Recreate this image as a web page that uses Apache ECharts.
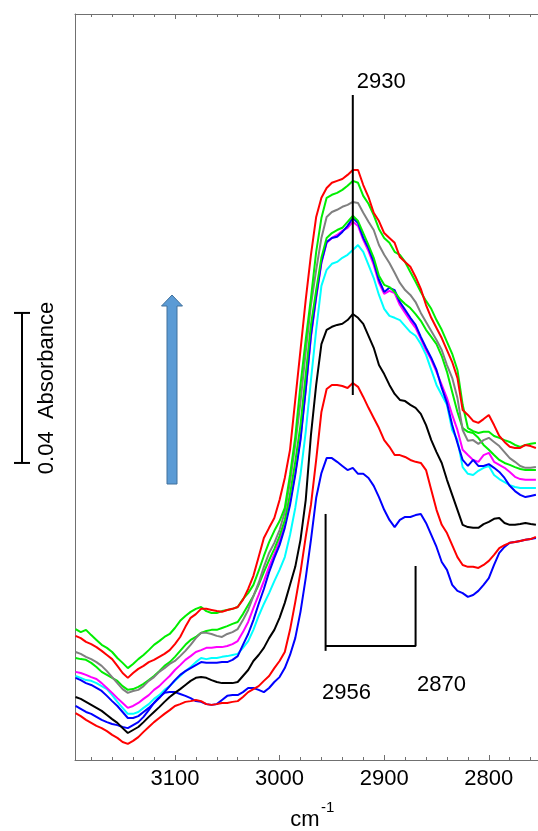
<!DOCTYPE html>
<html>
<head>
<meta charset="utf-8">
<script src="https://cdn.jsdelivr.net/npm/echarts@6/dist/echarts.min.js"></script>
<style>
html, body { margin: 0; padding: 0; background: #ffffff; }
#chart { width: 538px; height: 831px; }
</style>
</head>
<body>
<div id="chart"></div>
<script>
// Wavenumber grid (cm-1), shared by every spectrum
const wavenumbers = [3195,3190,3185,3180,3175,3170,3165,3160,3155,3150,
  3145,3140,3135,3130,3125,3120,3115,3110,3105,3100,
  3095,3090,3085,3080,3075,3070,3065,3060,3055,3050,
  3045,3040,3035,3030,3025,3020,3015,3010,3005,3000,
  2995,2990,2985,2980,2975,2970,2965,2960,2955,2950,
  2945,2940,2935,2930,2925,2920,2915,2910,2905,2900,
  2895,2890,2885,2880,2875,2870,2865,2860,2855,2850,
  2845,2840,2835,2830,2825,2820,2815,2810,2805,2800,
  2795,2790,2785,2780,2775,2770,2765,2760,2755];

// Absorbance spectra, offset baseline, from first (lowest) to last (highest)
const spec1 = [0.0144,0.0136,0.0128,0.0123,0.0115,0.0107,0.0101,0.0096,0.0093,0.0088,
  0.0085,0.0093,0.0101,0.0115,0.0133,0.0152,0.0168,0.0179,0.0181,0.0181,
  0.0176,0.0171,0.0165,0.0157,0.0155,0.0149,0.0147,0.0149,0.0160,0.0171,
  0.0173,0.0173,0.0181,0.0192,0.0192,0.0187,0.0181,0.0192,0.0208,0.0221,
  0.0245,0.0280,0.0325,0.0395,0.0485,0.0587,0.0699,0.0765,0.0805,0.0805,
  0.0795,0.0784,0.0773,0.0779,0.0763,0.0763,0.0752,0.0731,0.0701,0.0667,
  0.0640,0.0621,0.0640,0.0648,0.0648,0.0653,0.0656,0.0632,0.0600,0.0568,
  0.0528,0.0507,0.0467,0.0451,0.0445,0.0435,0.0440,0.0451,0.0467,0.0485,
  0.0520,0.0552,0.0568,0.0579,0.0581,0.0584,0.0587,0.0589,0.0592];
const spec2 = [0.0125,0.0117,0.0107,0.0099,0.0091,0.0085,0.0077,0.0067,0.0059,0.0048,
  0.0043,0.0051,0.0061,0.0075,0.0088,0.0101,0.0112,0.0123,0.0133,0.0144,
  0.0149,0.0155,0.0157,0.0160,0.0157,0.0149,0.0147,0.0149,0.0152,0.0152,
  0.0155,0.0157,0.0168,0.0181,0.0189,0.0197,0.0211,0.0224,0.0245,0.0264,
  0.0288,0.0347,0.0421,0.0501,0.0595,0.0680,0.0800,0.0928,0.0989,0.1000,
  0.1000,0.0997,0.0992,0.1005,0.0995,0.0968,0.0939,0.0912,0.0885,0.0853,
  0.0835,0.0813,0.0813,0.0808,0.0800,0.0795,0.0792,0.0773,0.0720,0.0667,
  0.0627,0.0605,0.0573,0.0541,0.0520,0.0515,0.0515,0.0512,0.0520,0.0531,
  0.0547,0.0565,0.0573,0.0579,0.0581,0.0584,0.0587,0.0589,0.0595];
const spec3 = [0.0168,0.0163,0.0155,0.0147,0.0139,0.0131,0.0120,0.0109,0.0099,0.0085,
  0.0072,0.0080,0.0088,0.0101,0.0115,0.0128,0.0141,0.0155,0.0168,0.0179,
  0.0189,0.0200,0.0211,0.0219,0.0221,0.0219,0.0213,0.0208,0.0205,0.0205,
  0.0205,0.0208,0.0224,0.0240,0.0264,0.0280,0.0299,0.0325,0.0347,0.0379,
  0.0419,0.0467,0.0515,0.0587,0.0693,0.0867,0.1000,0.1109,0.1147,0.1155,
  0.1160,0.1163,0.1173,0.1189,0.1179,0.1163,0.1131,0.1099,0.1053,0.1029,
  0.1000,0.0976,0.0960,0.0957,0.0947,0.0939,0.0923,0.0893,0.0853,0.0821,
  0.0792,0.0747,0.0707,0.0667,0.0627,0.0621,0.0619,0.0619,0.0629,0.0635,
  0.0643,0.0645,0.0632,0.0627,0.0627,0.0629,0.0632,0.0629,0.0627];
const spec4 = [0.0224,0.0219,0.0213,0.0211,0.0205,0.0197,0.0189,0.0173,0.0155,0.0139,
  0.0123,0.0123,0.0128,0.0139,0.0149,0.0163,0.0173,0.0187,0.0197,0.0211,
  0.0224,0.0237,0.0248,0.0261,0.0272,0.0269,0.0272,0.0272,0.0275,0.0277,
  0.0280,0.0283,0.0299,0.0317,0.0347,0.0384,0.0416,0.0445,0.0477,0.0507,
  0.0541,0.0600,0.0672,0.0760,0.0875,0.1013,0.1147,0.1264,0.1307,0.1323,
  0.1328,0.1339,0.1347,0.1360,0.1373,0.1355,0.1320,0.1285,0.1240,0.1203,
  0.1184,0.1179,0.1173,0.1157,0.1141,0.1131,0.1109,0.1080,0.1040,0.1000,
  0.0973,0.0947,0.0880,0.0853,0.0781,0.0763,0.0760,0.0771,0.0779,0.0784,
  0.0760,0.0749,0.0741,0.0733,0.0728,0.0725,0.0725,0.0725,0.0725];
const spec5 = [0.0235,0.0232,0.0227,0.0221,0.0216,0.0205,0.0192,0.0179,0.0165,0.0152,
  0.0139,0.0144,0.0152,0.0163,0.0173,0.0187,0.0197,0.0211,0.0224,0.0240,
  0.0253,0.0267,0.0277,0.0288,0.0293,0.0299,0.0299,0.0301,0.0301,0.0304,
  0.0309,0.0317,0.0341,0.0368,0.0405,0.0440,0.0477,0.0515,0.0549,0.0584,
  0.0627,0.0688,0.0765,0.0859,0.0987,0.1128,0.1232,0.1325,0.1379,0.1392,
  0.1400,0.1411,0.1419,0.1435,0.1424,0.1387,0.1357,0.1320,0.1272,0.1243,
  0.1251,0.1245,0.1213,0.1192,0.1171,0.1152,0.1123,0.1093,0.1067,0.1035,
  0.1000,0.0965,0.0920,0.0880,0.0827,0.0813,0.0800,0.0795,0.0813,0.0819,
  0.0795,0.0787,0.0779,0.0768,0.0755,0.0749,0.0747,0.0747,0.0747];
const spec6 = [0.0219,0.0213,0.0205,0.0200,0.0192,0.0184,0.0171,0.0157,0.0144,0.0128,
  0.0112,0.0112,0.0117,0.0128,0.0139,0.0152,0.0165,0.0181,0.0197,0.0213,
  0.0227,0.0237,0.0245,0.0253,0.0261,0.0259,0.0259,0.0259,0.0261,0.0261,
  0.0267,0.0277,0.0307,0.0336,0.0373,0.0416,0.0456,0.0501,0.0539,0.0573,
  0.0619,0.0680,0.0760,0.0853,0.0987,0.1133,0.1237,0.1328,0.1381,0.1392,
  0.1395,0.1408,0.1424,0.1445,0.1432,0.1392,0.1365,0.1328,0.1280,0.1248,
  0.1259,0.1253,0.1221,0.1200,0.1179,0.1160,0.1128,0.1099,0.1072,0.1040,
  0.0992,0.0952,0.0893,0.0845,0.0800,0.0784,0.0800,0.0784,0.0784,0.0789,
  0.0779,0.0768,0.0752,0.0731,0.0717,0.0707,0.0701,0.0704,0.0707];
const spec7 = [0.0272,0.0269,0.0267,0.0259,0.0248,0.0235,0.0227,0.0219,0.0211,0.0197,
  0.0187,0.0189,0.0195,0.0203,0.0213,0.0224,0.0237,0.0251,0.0261,0.0275,
  0.0291,0.0307,0.0320,0.0328,0.0339,0.0344,0.0347,0.0347,0.0352,0.0357,
  0.0363,0.0368,0.0389,0.0413,0.0437,0.0467,0.0501,0.0533,0.0563,0.0597,
  0.0640,0.0709,0.0795,0.0893,0.1027,0.1160,0.1253,0.1339,0.1392,0.1405,
  0.1413,0.1419,0.1435,0.1451,0.1437,0.1405,0.1373,0.1339,0.1291,0.1267,
  0.1261,0.1248,0.1229,0.1216,0.1205,0.1189,0.1171,0.1147,0.1128,0.1109,
  0.1077,0.1035,0.0981,0.0928,0.0885,0.0875,0.0872,0.0859,0.0840,0.0827,
  0.0813,0.0800,0.0792,0.0787,0.0781,0.0776,0.0773,0.0773,0.0773];
const spec8 = [0.0288,0.0283,0.0275,0.0269,0.0261,0.0251,0.0237,0.0221,0.0205,0.0189,
  0.0179,0.0184,0.0187,0.0197,0.0211,0.0221,0.0235,0.0245,0.0256,0.0264,
  0.0277,0.0291,0.0307,0.0325,0.0339,0.0339,0.0336,0.0331,0.0328,0.0336,
  0.0341,0.0349,0.0373,0.0400,0.0437,0.0472,0.0515,0.0552,0.0579,0.0613,
  0.0661,0.0741,0.0840,0.0955,0.1088,0.1213,0.1307,0.1392,0.1448,0.1461,
  0.1467,0.1475,0.1480,0.1488,0.1485,0.1459,0.1435,0.1413,0.1373,0.1347,
  0.1325,0.1299,0.1272,0.1253,0.1240,0.1221,0.1192,0.1168,0.1144,0.1120,
  0.1093,0.1053,0.1019,0.0965,0.0880,0.0851,0.0853,0.0843,0.0853,0.0859,
  0.0848,0.0837,0.0821,0.0805,0.0795,0.0784,0.0779,0.0779,0.0781];
const spec9 = [0.0349,0.0341,0.0347,0.0333,0.0320,0.0307,0.0299,0.0288,0.0272,0.0259,
  0.0245,0.0256,0.0269,0.0280,0.0293,0.0307,0.0317,0.0328,0.0336,0.0352,
  0.0371,0.0384,0.0395,0.0403,0.0408,0.0397,0.0392,0.0392,0.0397,0.0400,
  0.0403,0.0408,0.0429,0.0445,0.0467,0.0504,0.0544,0.0581,0.0611,0.0637,
  0.0672,0.0760,0.0861,0.1000,0.1120,0.1232,0.1355,0.1445,0.1499,0.1507,
  0.1512,0.1520,0.1531,0.1544,0.1539,0.1504,0.1483,0.1453,0.1416,0.1392,
  0.1379,0.1355,0.1347,0.1328,0.1301,0.1275,0.1248,0.1224,0.1203,0.1173,
  0.1147,0.1115,0.1083,0.1040,0.0947,0.0885,0.0877,0.0872,0.0875,0.0875,
  0.0864,0.0859,0.0853,0.0848,0.0840,0.0835,0.0840,0.0843,0.0845];
const spec10 = [0.0331,0.0325,0.0315,0.0309,0.0301,0.0291,0.0280,0.0269,0.0251,0.0232,
  0.0219,0.0232,0.0243,0.0251,0.0261,0.0267,0.0275,0.0283,0.0293,0.0309,
  0.0328,0.0355,0.0379,0.0389,0.0403,0.0403,0.0400,0.0397,0.0395,0.0400,
  0.0403,0.0408,0.0427,0.0456,0.0491,0.0541,0.0592,0.0619,0.0645,0.0693,
  0.0752,0.0827,0.0960,0.1093,0.1227,0.1347,0.1448,0.1499,0.1525,0.1539,
  0.1544,0.1549,0.1560,0.1573,0.1573,0.1533,0.1501,0.1459,0.1437,0.1405,
  0.1392,0.1379,0.1341,0.1328,0.1315,0.1288,0.1256,0.1213,0.1179,0.1152,
  0.1125,0.1093,0.1061,0.1019,0.0933,0.0920,0.0904,0.0899,0.0909,0.0920,
  0.0893,0.0864,0.0848,0.0835,0.0832,0.0832,0.0840,0.0837,0.0832];

const spectra = [spec1, spec2, spec3, spec4, spec5, spec6, spec7, spec8, spec9, spec10];
const spectrumColors = ['#0000ff', '#ff0000', '#000000', '#00ffff', '#ff00ff',
                        '#0000ff', '#00ee00', '#808080', '#00ee00', '#ff0000'];

// Axis ticks and labels (cm-1)
const majorTicks = [2800, 2900, 3000, 3100];
const minorTicks = [2760, 2780, 2820, 2840, 2860, 2880, 2920, 2940, 2960, 2980,
                    3020, 3040, 3060, 3080, 3120, 3140, 3160, 3180];
const xRange = [2753, 3195.5];
const yRange = [0, 0.1989];

// Band markers: [wavenumber, top absorbance, bottom absorbance]
const band2930 = [2930, 0.1773, 0.0973];
const band2956 = [2956, 0.0656, 0.0291];
const band2870 = [2870, 0.0517, 0.0304];
const bracketBase = 0.0304;
// Scale bar: 0.04 absorbance, starting at this level
const scaleBar = [0.0792, 0.04];

const FONT = "'Liberation Sans', Arial, sans-serif";
const GRAY = '#707070';

const chart = echarts.init(document.getElementById('chart'), null, { renderer: 'canvas' });

function xAxisDef(position, ticks, len, withLine, withLabels) {
  return {
    type: 'value', position: position, min: xRange[0], max: xRange[1], inverse: true,
    splitLine: { show: false },
    axisLine: { show: withLine, onZero: false, lineStyle: { color: GRAY, width: 1 } },
    axisTick: { show: true, inside: true, length: len, customValues: ticks,
                lineStyle: { color: GRAY, width: 1 } },
    axisLabel: withLabels
      ? { show: true, customValues: ticks, margin: 8, fontSize: 22, color: '#000',
          fontFamily: FONT, formatter: (v) => String(v) }
      : { show: false }
  };
}

const lineSeries = spectra.map((vals, k) => ({
  type: 'line',
  xAxisIndex: 0, yAxisIndex: 0,
  data: wavenumbers.map((w, i) => [w, vals[i]]),
  symbol: 'none', showSymbol: false, silent: true, clip: true,
  lineStyle: { color: spectrumColors[k], width: 2 },
  itemStyle: { color: spectrumColors[k] },
  z: 2 + k
}));

function markerSeries(points) {
  return {
    type: 'line', xAxisIndex: 0, yAxisIndex: 0, data: points,
    symbol: 'none', showSymbol: false, silent: true, clip: false,
    lineStyle: { color: '#000', width: 2 }, z: 20
  };
}

const option = {
  animation: false,
  backgroundColor: '#ffffff',
  grid: { left: 75, right: 0, top: 14, bottom: 71, containLabel: false },
  xAxis: [
    xAxisDef('bottom', majorTicks, 5, true, true),
    xAxisDef('bottom', minorTicks, 3, false, false),
    xAxisDef('top', majorTicks, 5, true, false),
    xAxisDef('top', minorTicks, 3, false, false)
  ],
  yAxis: {
    type: 'value', min: yRange[0], max: yRange[1],
    axisLine: { show: true, onZero: false, lineStyle: { color: GRAY, width: 1 } },
    axisTick: { show: false }, axisLabel: { show: false }, splitLine: { show: false }
  },
  series: lineSeries.concat([
    markerSeries([[band2930[0], band2930[1]], [band2930[0], band2930[2]]]),
    markerSeries([[band2956[0], band2956[1]], [band2956[0], band2956[2]]]),
    markerSeries([[band2956[0], bracketBase], [band2870[0], bracketBase], [band2870[0], band2870[1]]])
  ])
};
chart.setOption(option);

// Text annotations and scale bar, positioned through the axes
const px = (x, y) => chart.convertToPixel({ xAxisIndex: 0, yAxisIndex: 0 }, [x, y]);
const p2930 = px(band2930[0], band2930[1]);
const p2956 = px(band2956[0], bracketBase);
const p2870 = px(band2870[0], bracketBase);
const sbBottom = px(xRange[1], scaleBar[0])[1];
const sbTop = px(xRange[1], scaleBar[0] + scaleBar[1])[1];
const sbX = 22;

function label(text, x, y, align, size) {
  return {
    type: 'text', x: x, y: y, silent: true,
    style: { text: text, font: (size || 22) + 'px ' + FONT, fill: '#000',
             align: align || 'center', verticalAlign: 'middle',
             textAlign: align || 'center', textVerticalAlign: 'middle' }
  };
}

chart.setOption({
  graphic: [
    label('2930', p2930[0] + 4, p2930[1] - 13, 'left'),
    label('2956', p2956[0] + 21, p2956[1] + 47),
    label('2870', p2870[0] + 26, p2870[1] + 39),
    // axis title cm-1
    label('cm', 305, 820),
    label('-1', 321, 808, 'left', 15),
    // scale bar
    { type: 'line', silent: true, shape: { x1: sbX, y1: sbTop, x2: sbX, y2: sbBottom },
      style: { stroke: '#000', lineWidth: 2 } },
    { type: 'line', silent: true, shape: { x1: sbX - 8, y1: sbTop, x2: sbX + 8, y2: sbTop },
      style: { stroke: '#000', lineWidth: 2 } },
    { type: 'line', silent: true, shape: { x1: sbX - 8, y1: sbBottom, x2: sbX + 8, y2: sbBottom },
      style: { stroke: '#000', lineWidth: 2 } },
    {
      type: 'text', x: 47, y: (sbTop + sbBottom) / 2, rotation: Math.PI / 2, silent: true,
      style: { text: '0.04  Absorbance', font: '22px ' + FONT, fill: '#000',
               align: 'center', verticalAlign: 'middle',
               textAlign: 'center', textVerticalAlign: 'middle' }
    },
    // arrow showing the growth direction
    {
      type: 'polygon', silent: true,
      shape: { points: [[172, 295], [182.5, 306], [177, 306], [177, 484],
                        [167, 484], [167, 306], [161.5, 306]] },
      style: { fill: '#5b9bd5', stroke: '#41719c', lineWidth: 1 }
    }
  ]
});
</script>
</body>
</html>
